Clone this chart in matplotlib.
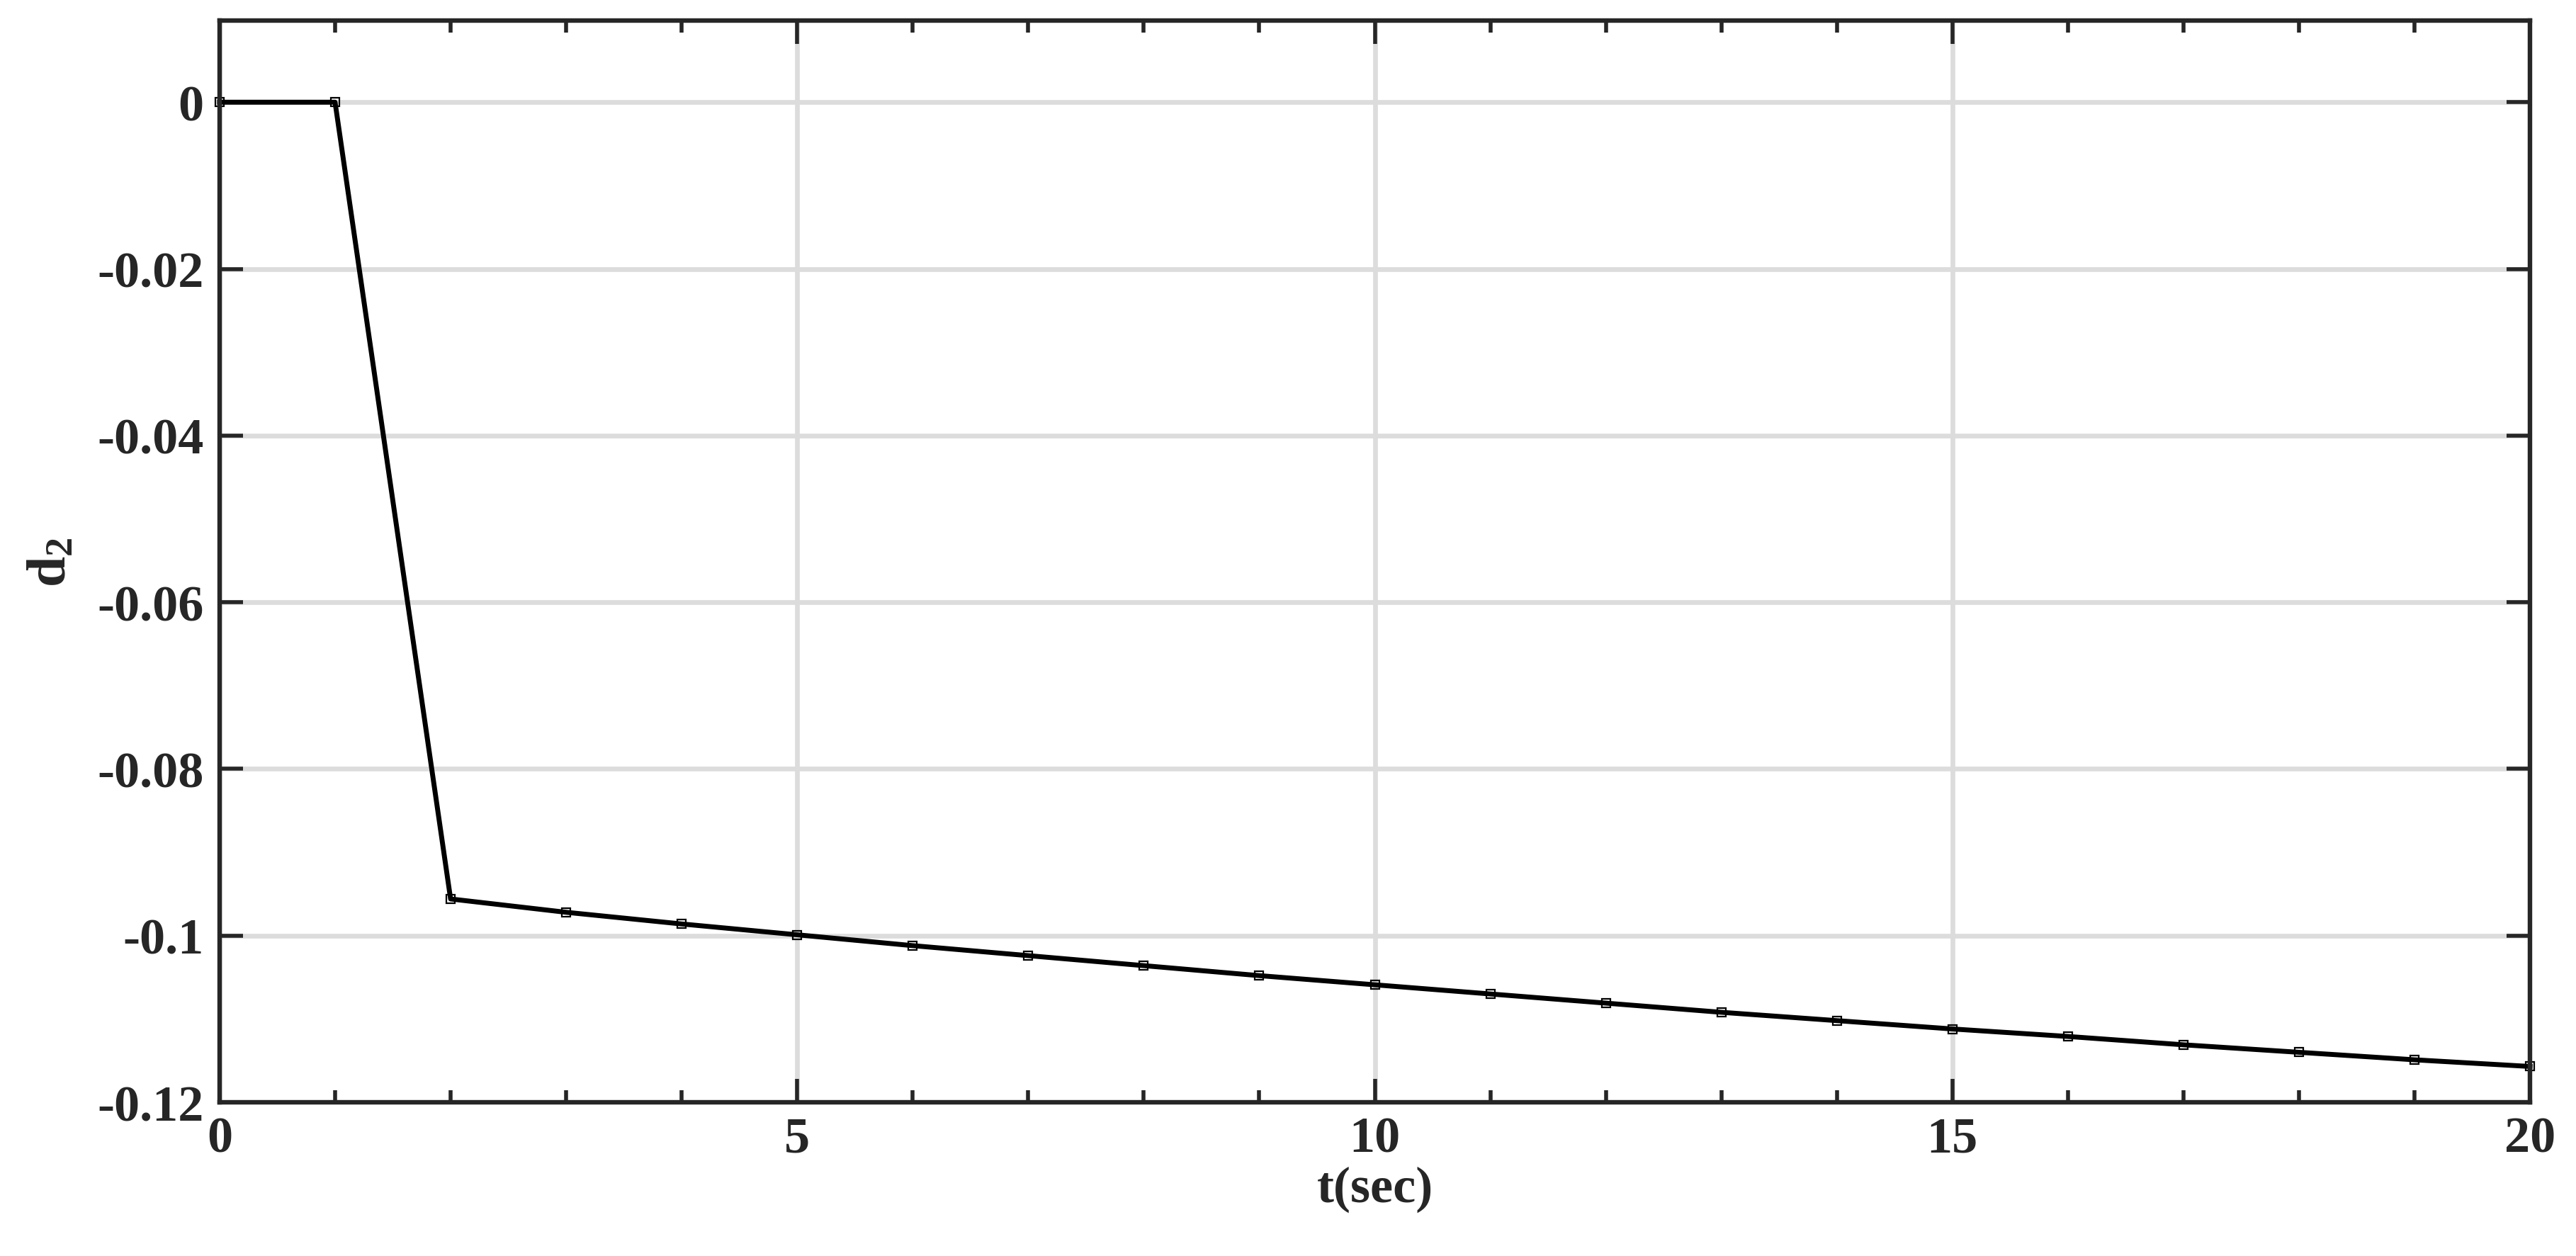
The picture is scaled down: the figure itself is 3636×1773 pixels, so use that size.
import matplotlib
matplotlib.use("Agg")
import matplotlib.pyplot as plt
from matplotlib.ticker import MultipleLocator

# ---- data ----
t = [0, 1, 2, 3, 4, 5, 6, 7, 8, 9, 10, 11, 12, 13, 14, 15, 16, 17, 18, 19, 20]
d2 = [0.0, 0.0, -0.0956, -0.0972, -0.0986, -0.0999, -0.1012, -0.1024, -0.1036,
      -0.1048, -0.1059, -0.1070, -0.1081, -0.1092, -0.1102, -0.1112, -0.1121,
      -0.1131, -0.1140, -0.1149, -0.1157]
xticks = [0, 5, 10, 15, 20]
xticklabels = ["0", "5", "10", "15", "20"]
yticks = [-0.12, -0.1, -0.08, -0.06, -0.04, -0.02, 0]
yticklabels = ["-0.12", "-0.1", "-0.08", "-0.06", "-0.04", "-0.02", "0"]
xlabel = "t(sec)"
ylabel = r"$\mathbf{d_2}$"

plt.rcParams["font.family"] = ["Liberation Serif", "DejaVu Serif"]
plt.rcParams["font.weight"] = "bold"
plt.rcParams["mathtext.fontset"] = "custom"
plt.rcParams["mathtext.rm"] = "Liberation Serif"
plt.rcParams["mathtext.bf"] = "Liberation Serif:bold"

DPI = 200
fig = plt.figure(figsize=(3637 / DPI, 1774 / DPI), dpi=DPI)
ax = fig.add_axes([0.0852, 0.1223, 0.9819 - 0.0852, 0.9831 - 0.1223])

spine_c = "#262626"
ax.plot(t, d2, color="black", lw=2.5, marker="s", ms=4.6, mfc="none",
        mec="black", mew=0.8, zorder=3, clip_on=False)

ax.set_xlim(0, 20)
ax.set_ylim(-0.12, 0.0098)
ax.set_xticks(xticks)
ax.set_xticklabels(xticklabels)
ax.set_yticks(yticks)
ax.set_yticklabels(yticklabels)
ax.xaxis.set_minor_locator(MultipleLocator(1))

ax.grid(True, which="major", color="#dcdcdc", lw=2.4, zorder=0)
ax.set_axisbelow(True)

for s in ax.spines.values():
    s.set_color(spine_c)
    s.set_linewidth(2.3)
    s.set_zorder(4)

ax.tick_params(which="major", direction="in", length=12, width=2.0,
               color=spine_c, top=True, right=True, labelsize=26,
               labelcolor=spine_c, pad=8)
ax.tick_params(which="minor", direction="in", length=6, width=2.0,
               color=spine_c, top=True, right=False, left=False)
ax.tick_params(axis="x", pad=7)

for lab in ax.get_xticklabels() + ax.get_yticklabels():
    lab.set_fontweight("bold")

ax.set_xlabel(xlabel, fontsize=26, fontweight="bold", color=spine_c, labelpad=2)
ax.set_ylabel(ylabel, fontsize=28, color=spine_c, labelpad=10)

fig.savefig("out.png", dpi=DPI, facecolor="white")
